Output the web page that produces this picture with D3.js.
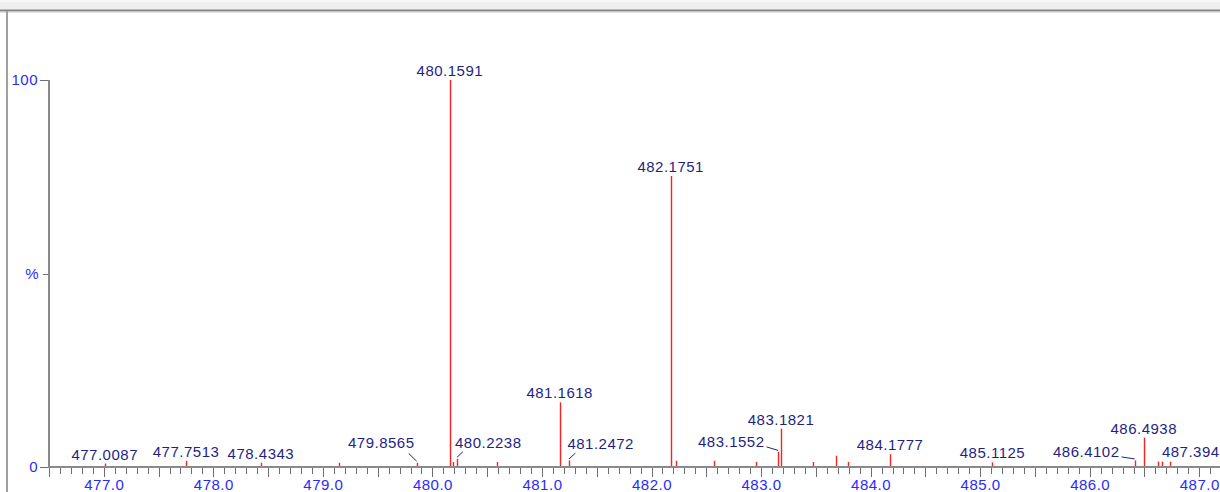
<!DOCTYPE html>
<html>
<head>
<meta charset="utf-8">
<script src="https://cdn.jsdelivr.net/npm/d3@7"></script>
<style>
body { margin: 0; background: #fff; overflow: hidden; }
text { font-family: "Liberation Sans", Arial, sans-serif; font-size: 15px; letter-spacing: 0.5px; }
</style>
</head>
<body>
<div id="container"></div>
<script>
/* CONSTANTS AND GLOBALS */
const width = 1220,
  height = 492,
  plot = { left: 49, top: 80, bottom: 467, right: 1254 };

/* DATA */
// every stick in the spectrum: m/z and relative intensity (%)
const peakMz = [477.0087, 477.7513, 478.4343, 479.146, 479.8565, 480.1591, 480.184, 480.2238,
  480.59, 481.1618, 481.2472, 482.1751, 482.22, 482.567, 482.95, 483.1552, 483.1821,
  483.478, 483.68, 483.797, 484.1777, 485.1125, 486.4102, 486.4938, 486.62, 486.66,
  486.73, 487.3947];
const peakInt = [0.9, 1.6, 1.1, 1.1, 1.1, 100, 1.3, 2.1,
  1.3, 16.7, 1.7, 75.2, 1.6, 1.6, 1.3, 3.9, 9.9,
  1.3, 2.9, 1.3, 3.3, 1.2, 1.7, 7.6, 1.4, 1.4,
  1.4, 1.5];

// labelled peaks
const labelText = ["477.0087", "477.7513", "478.4343", "479.8565", "480.1591", "480.2238",
  "481.1618", "481.2472", "482.1751", "483.1552", "483.1821", "484.1777", "485.1125",
  "486.4102", "486.4938", "487.3947"];
// where a moved label is centred (m/z), null = right over its peak
const labelAtMz = [null, null, null, 479.533, null, 480.51,
  null, 481.536, null, 482.728, null, null, null,
  485.969, null, 486.963];
// baseline level of a moved label (%), null = just above its peak
const labelAtPct = [null, null, null, 4.8, null, 5.0,
  null, 4.6, null, 5.2, null, null, null,
  2.6, null, 2.6];

const xTickValues = [477, 478, 479, 480, 481, 482, 483, 484, 485, 486, 487];
const xTickLabels = ["477.0", "478.0", "479.0", "480.0", "481.0", "482.0", "483.0", "484.0", "485.0", "486.0", "487.0"];
const yTickValues = [0, 50, 100];
const yTickLabels = ["0", "%", "100"];

const peaks = peakMz.map((mz, i) => ({ mz, int: peakInt[i] }));
const labels = labelText.map((t, i) => {
  const mz = +t;
  const p = peaks.find(d => Math.abs(d.mz - mz) < 1e-6);
  return { text: t, mz, int: p.int, atMz: labelAtMz[i], atPct: labelAtPct[i] };
});

const svg = d3.select("#container")
  .append("svg")
  .attr("width", width)
  .attr("height", height)
  .style("display", "block");

// window frame
svg.append("rect").attr("x", 0).attr("y", 0).attr("width", width).attr("height", 10).attr("fill", "#efefef");
svg.append("rect").attr("x", 0).attr("y", 0).attr("width", width).attr("height", 2).attr("fill", "#f8f8f8");
svg.append("rect").attr("x", 0).attr("y", 9.5).attr("width", width).attr("height", 2).attr("fill", "#858585");
svg.append("rect").attr("x", 0).attr("y", 11.5).attr("width", width).attr("height", 1).attr("fill", "#c8c8c8");
svg.append("rect").attr("x", 6).attr("y", 11).attr("width", 2).attr("height", height).attr("fill", "#a0a0a0");

/* SCALES */
const x = d3.scaleLinear().domain([476.5, 487.5]).range([plot.left, plot.right]);
const y = d3.scaleLinear().domain([0, 100]).range([plot.bottom, plot.top]);

/* AXES */
const gx = svg.append("g").attr("transform", `translate(0,${plot.bottom})`);
// 0.1 minor ticks
gx.append("g")
  .call(d3.axisBottom(x).tickValues(d3.range(4765, 4876).map(v => v / 10)).tickSize(7).tickFormat(""))
  .call(g => g.select(".domain").remove());
// 0.5 ticks
gx.append("g")
  .call(d3.axisBottom(x).tickValues(d3.range(4765, 4876, 5).map(v => v / 10)).tickSize(10).tickFormat(""))
  .call(g => g.select(".domain").remove());
// labelled integer ticks
gx.append("g")
  .call(d3.axisBottom(x).tickValues(xTickValues).tickSize(10).tickPadding(2)
    .tickFormat((d, i) => xTickLabels[i]))
  .call(g => g.select(".domain").remove())
  .call(g => g.selectAll("text").attr("fill", "#2a2aff").style("font-size", "15px").style("font-family", null));
gx.selectAll(".tick line").attr("stroke", "#6e6e6e").attr("shape-rendering", "crispEdges");
gx.append("line")
  .attr("x1", plot.left).attr("x2", width + 60)
  .attr("stroke", "#8a8a8a").attr("stroke-width", 2);

const gy = svg.append("g").attr("transform", `translate(${plot.left},0)`);
gy.call(d3.axisLeft(y).tickValues(yTickValues).tickSize(9).tickPadding(2)
    .tickFormat((d, i) => yTickLabels[i]))
  .call(g => g.select(".domain").remove())
  .call(g => g.selectAll("text").attr("fill", "#2a2aff").style("font-size", "15px").style("font-family", null));
gy.selectAll(".tick line").attr("stroke", "#6e6e6e").attr("shape-rendering", "crispEdges");
gy.selectAll(".tick").filter(d => d === 50).select("line").attr("x2", -6);
gy.selectAll(".tick").filter(d => d === 50).select("text").attr("x", -10);
gy.append("line")
  .attr("y1", y(100)).attr("y2", plot.bottom + 1)
  .attr("stroke", "#8a8a8a").attr("stroke-width", 2);

/* PEAKS */
svg.append("g")
  .selectAll("line")
  .data(peaks)
  .join("line")
  .attr("x1", d => Math.round(x(d.mz)) + 0.5)
  .attr("x2", d => Math.round(x(d.mz)) + 0.5)
  .attr("y1", plot.bottom - 1)
  .attr("y2", d => y(d.int))
  .attr("stroke", "#ff1f1f")
  .attr("stroke-width", 1.4);

/* PEAK LABELS */
const lab = svg.append("g")
  .selectAll("g")
  .data(labels)
  .join("g");

lab.append("text")
  .attr("x", d => x(d.atMz == null ? d.mz : d.atMz))
  .attr("y", d => d.atPct == null ? y(d.int) - 4 : y(d.atPct))
  .attr("text-anchor", "middle")
  .attr("fill", "#1f1f86")
  .text(d => d.text);

// leader lines for labels that were moved aside
lab.filter(d => d.atMz != null).each(function (d) {
  const t = d3.select(this).select("text");
  const b = t.node().getBBox();
  const px = x(d.mz), py = y(d.int) - 1.5;
  const base = +t.attr("y");
  let ex, ey;
  if (d.atMz < d.mz) {
    ex = Math.min(b.x + b.width + 2, px - 8);
    ey = ex < b.x + b.width ? base + 5 : base;
  } else {
    ex = Math.max(b.x + 8, px + 6);
    ey = base + 4;
  }
  d3.select(this).append("line")
    .attr("x1", px).attr("y1", py)
    .attr("x2", ex).attr("y2", ey)
    .attr("stroke", "#1f1f86")
    .attr("stroke-width", 1);
});
</script>
</body>
</html>
